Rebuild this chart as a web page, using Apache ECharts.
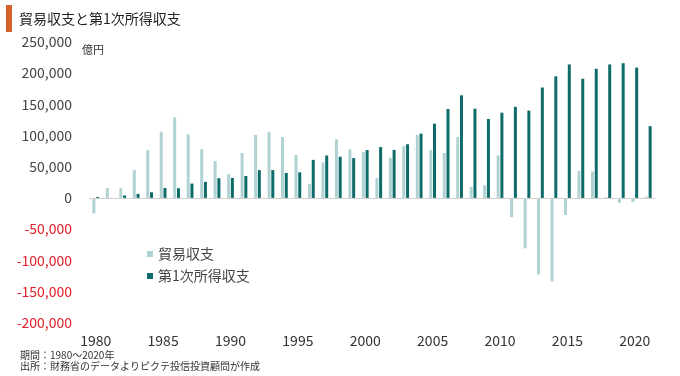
<!DOCTYPE html>
<html>
<head>
<meta charset="utf-8">
<script src="https://cdn.jsdelivr.net/npm/echarts@6/dist/echarts.min.js"></script>
<style>
  html, body { margin: 0; padding: 0; background: #fff; }
  #chart { width: 680px; height: 376px; }
</style>
</head>
<body>
<div id="chart"></div>
<script>
// years on the x axis
const years = [];
for (let y = 1980; y <= 2021; y++) years.push(String(y));

// 貿易収支 (億円)
const tradeBalance = [
  -25000, 16000, 15500, 44500, 76600, 106000, 129000, 102000, 78000, 59000,
  38000, 72000, 101000, 106000, 97500, 68600, 22500, 57000, 94000, 77700,
  73400, 31600, 64300, 83000, 101000, 76600, 72000, 97500, 17700, 20400,
  68000, -31000, -81000, -122700, -134000, -27300, 43400, 42300, 1500, -8000,
  -6400, 2000
];

// 第1次所得収支 (億円)
const primaryIncome = [
  1500, -1500, 4000, 6400, 9000, 16000, 15500, 23000, 25700, 31600,
  32000, 35000, 44500, 44500, 40000, 41000, 61000, 68000, 66000, 63800,
  76600, 81500, 77000, 86000, 103000, 119000, 142600, 164500, 143000, 126500,
  136700, 146000, 140000, 177000, 195000, 214000, 191000, 207000, 214000, 216000,
  209000, 115000
];

const seriesNames = ['貿易収支', '第1次所得収支'];

const chart = echarts.init(document.getElementById('chart'));
const font = '"Noto Sans CJK JP", "Noto Sans", sans-serif';

const options = {
  animation: false,
  textStyle: { fontFamily: font },
  grid: { left: 89, right: 25, top: 42, bottom: 53.4 },
  graphic: [
    { type: 'rect', shape: { x: 6, y: 5, width: 6, height: 27 }, style: { fill: '#d4612a' } },
    { type: 'text', style: { x: 19, y: 19, text: '貿易収支と第1次所得収支', font: '14px ' + font, fill: '#222', verticalAlign: 'middle' } },
    { type: 'text', style: { x: 82, y: 50, text: '億円', font: '11px ' + font, fill: '#333', verticalAlign: 'middle' } },
    { type: 'text', style: { x: 20, y: 355, text: '期間：1980～2020年', font: '10px ' + font, fill: '#333', verticalAlign: 'middle' } },
    { type: 'text', style: { x: 20, y: 366, text: '出所：財務省のデータよりピクテ投信投資顧問が作成', font: '10px ' + font, fill: '#333', verticalAlign: 'middle' } }
  ],
  legend: {
    data: seriesNames,
    orient: 'vertical',
    left: 147,
    top: 247,
    padding: 0,
    icon: 'rect',
    itemWidth: 6,
    itemHeight: 6,
    itemGap: 8,
    textStyle: { fontSize: 14, color: '#444' }
  },
  xAxis: {
    type: 'category',
    data: years,
    axisLine: { show: false, onZero: false },
    axisTick: { show: false },
    axisLabel: {
      interval: (idx, val) => Number(val) % 5 === 0,
      fontSize: 14,
      color: '#333',
      margin: 11
    }
  },
  yAxis: {
    type: 'value',
    min: -200000,
    max: 250000,
    interval: 50000,
    splitLine: { show: false },
    axisLine: { show: false },
    axisTick: { show: false },
    axisLabel: {
      margin: 17,
      formatter: (v) => {
        const s = Math.abs(v).toLocaleString('en-US');
        return v < 0 ? '{neg|-' + s + '}' : '{pos|' + s + '}';
      },
      rich: {
        pos: { fontSize: 14, color: '#444' },
        neg: { fontSize: 14, color: '#e3202a' }
      }
    }
  },
  series: [
    {
      name: seriesNames[0],
      type: 'bar',
      data: tradeBalance,
      barWidth: 3,
      barGap: '25%',
      itemStyle: { color: '#b0d2d3' },
      markLine: {
        silent: true,
        symbol: ['none', 'none'],
        label: { show: false },
        lineStyle: { color: '#d0d0d0', type: 'solid', width: 1 },
        data: [{ yAxis: 0 }]
      }
    },
    {
      name: seriesNames[1],
      type: 'bar',
      data: primaryIncome,
      barWidth: 3,
      itemStyle: { color: '#0d6b69' }
    }
  ]
};

chart.setOption(options);
</script>
</body>
</html>
